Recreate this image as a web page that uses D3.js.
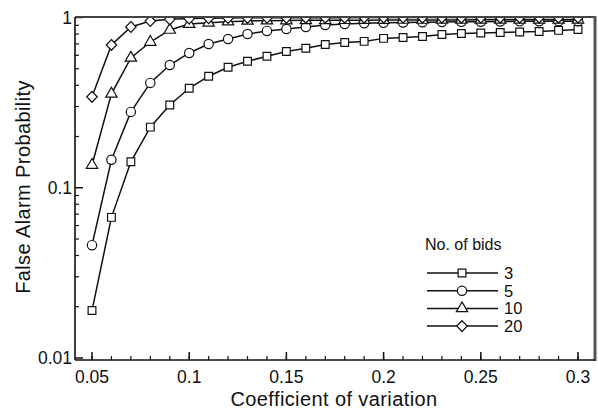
<!DOCTYPE html>
<html>
<head>
<meta charset="utf-8">
<script src="https://cdn.jsdelivr.net/npm/d3@7"></script>
<style>
  body { margin: 0; background: #fff; }
  text { font-family: "Liberation Sans", Arial, sans-serif; fill: #111; }
</style>
</head>
<body>
<svg id="chart" width="598" height="410"></svg>
<script>
// coefficient of variation (x) and false alarm probability for each no. of bids
const cv = [0.05, 0.06, 0.07, 0.08, 0.09, 0.10, 0.11, 0.12, 0.13, 0.14, 0.15, 0.16, 0.17,
            0.18, 0.19, 0.20, 0.21, 0.22, 0.23, 0.24, 0.25, 0.26, 0.27, 0.28, 0.29, 0.30]
const bids3 = [0.019, 0.067, 0.142, 0.227, 0.306, 0.384, 0.452, 0.51, 0.553, 0.592, 0.632, 0.659, 0.695,
               0.714, 0.724, 0.754, 0.764, 0.774, 0.795, 0.806, 0.81, 0.817, 0.822, 0.828, 0.84, 0.85]
const bids5 = [0.046, 0.146, 0.279, 0.413, 0.526, 0.619, 0.699, 0.748, 0.80, 0.834, 0.856, 0.88, 0.904,
               0.916, 0.925, 0.93, 0.935, 0.938, 0.941, 0.943, 0.945, 0.947, 0.949, 0.95, 0.951, 0.952]
const bids10 = [0.136, 0.356, 0.579, 0.718, 0.845, 0.915, 0.93, 0.945, 0.955, 0.958, 0.96, 0.962, 0.963,
                0.964, 0.965, 0.966, 0.967, 0.967, 0.968, 0.968, 0.969, 0.969, 0.97, 0.97, 0.97, 0.97]
const bids20 = [0.342, 0.69, 0.88, 0.954, 0.975, 0.985, 0.99, 0.993, 0.995, 0.996, 0.997, 0.998, 0.998,
                0.998, 0.999, 0.999, 0.999, 0.999, 0.999, 0.999, 0.999, 0.999, 0.999, 0.999, 0.999, 0.999]
const seriesNames = ["3", "5", "10", "20"]
const xTicks = [0.05, 0.1, 0.15, 0.2, 0.25, 0.3]
const yTicks = [0.01, 0.1, 1]
const yTickLabels = ["0.01", "0.1", "1"]

const series = [
  {name: seriesNames[0], values: bids3, shape: d3.symbolSquare},
  {name: seriesNames[1], values: bids5, shape: d3.symbolCircle},
  {name: seriesNames[2], values: bids10, shape: d3.symbolTriangle},
  {name: seriesNames[3], values: bids20, shape: d3.symbolDiamond}
]

const svg = d3.select("#chart")
const plotLeft = 75, plotRight = 595, plotTop = 17, plotBottom = 360

let x = d3.scaleLinear().domain([0.05, 0.3]).range([92, 578])
let y = d3.scaleLog().domain([0.01, 1]).range([358, 17.5])

svg.append("clipPath").attr("id", "plotclip")
  .append("rect")
    .attr("x", plotLeft).attr("y", plotTop)
    .attr("width", plotRight - plotLeft).attr("height", plotBottom - plotTop)

// minor ticks
let xMinor = d3.range(0.05, 0.305, 0.01)
svg.append("g").selectAll("line")
    .data(xMinor)
  .enter().append("line")
    .attr("x1", d => x(d)).attr("x2", d => x(d))
    .attr("y1", plotBottom).attr("y2", plotBottom - 4)
    .attr("stroke", "#111").attr("stroke-width", 1.2)

svg.append("g").selectAll("line")
    .data(xTicks)
  .enter().append("line")
    .attr("x1", d => x(d)).attr("x2", d => x(d))
    .attr("y1", plotBottom).attr("y2", plotBottom - 8)
    .attr("stroke", "#111").attr("stroke-width", 1.5)

let yMinor = []
;[0.01, 0.1].forEach(dec => { for (let k = 2; k <= 9; k++) yMinor.push(dec * k) })
svg.append("g").selectAll("line")
    .data(yMinor)
  .enter().append("line")
    .attr("x1", plotLeft).attr("x2", plotLeft + 4)
    .attr("y1", d => y(d)).attr("y2", d => y(d))
    .attr("stroke", "#111").attr("stroke-width", 1.2)

svg.append("g").selectAll("line")
    .data(yTicks)
  .enter().append("line")
    .attr("x1", plotLeft).attr("x2", plotLeft + 8)
    .attr("y1", d => y(d)).attr("y2", d => y(d))
    .attr("stroke", "#111").attr("stroke-width", 1.5)

// tick labels
svg.append("g").selectAll("text")
    .data(xTicks)
  .enter().append("text")
    .attr("x", d => x(d)).attr("y", 383)
    .attr("text-anchor", "middle")
    .attr("font-size", 17.5)
    .text(d => d3.format("")(d))

svg.append("g").selectAll("text")
    .data(yTicks)
  .enter().append("text")
    .attr("x", plotLeft - 3).attr("y", d => y(d) + 6)
    .attr("text-anchor", "end")
    .attr("font-size", 17.5)
    .text((d, i) => yTickLabels[i])

// axis titles
svg.append("text")
    .attr("x", 334).attr("y", 406)
    .attr("text-anchor", "middle").attr("font-size", 20)
    .attr("letter-spacing", 0.4)
    .text("Coefficient of variation")
svg.append("text")
    .attr("transform", "translate(30,187) rotate(-90)")
    .attr("text-anchor", "middle").attr("font-size", 20)
    .attr("letter-spacing", 0.4)
    .text("False Alarm Probability")

// series
let line = d3.line()
    .x((d, i) => x(cv[i]))
    .y(d => y(d))

const symSize = {"3": 60, "5": 68, "10": 56, "20": 60}

let plot = svg.append("g").attr("clip-path", "url(#plotclip)")
series.forEach(s => {
  let g = plot.append("g")
  g.append("path")
      .attr("d", line(s.values))
      .attr("fill", "none")
      .attr("stroke", "#111")
      .attr("stroke-width", 1.5)
  g.selectAll("path.pt")
      .data(s.values)
    .enter().append("path")
      .attr("class", "pt")
      .attr("d", d3.symbol().type(s.shape).size(symSize[s.name]))
      .attr("transform", (d, i) => `translate(${x(cv[i])},${y(d)})` + (s.shape === d3.symbolDiamond ? " scale(1.25,0.75)" : ""))
      .attr("fill", "#fff")
      .attr("stroke", "#111")
      .attr("stroke-width", 1.2)
})

// frame
svg.append("line").attr("x1", plotLeft).attr("x2", plotRight).attr("y1", plotTop).attr("y2", plotTop)
    .attr("stroke", "#444").attr("stroke-width", 2)
svg.append("line").attr("x1", plotRight).attr("x2", plotRight).attr("y1", plotTop - 1).attr("y2", plotBottom + 1)
    .attr("stroke", "#555").attr("stroke-width", 3)
svg.append("line").attr("x1", plotLeft).attr("x2", plotLeft).attr("y1", plotTop).attr("y2", plotBottom)
    .attr("stroke", "#111").attr("stroke-width", 1.6)
svg.append("line").attr("x1", plotLeft).attr("x2", plotRight).attr("y1", plotBottom).attr("y2", plotBottom)
    .attr("stroke", "#111").attr("stroke-width", 1.6)

// legend
let legend = svg.append("g")
legend.append("text")
    .attr("x", 425).attr("y", 250)
    .attr("font-size", 16)
    .text("No. of bids")
series.forEach((s, i) => {
  let ly = 273 + i * 17.7
  legend.append("line")
      .attr("x1", 427).attr("x2", 498).attr("y1", ly).attr("y2", ly)
      .attr("stroke", "#111").attr("stroke-width", 1.5)
  legend.append("path")
      .attr("d", d3.symbol().type(s.shape).size(symSize[s.name]))
      .attr("transform", `translate(462,${ly})` + (s.shape === d3.symbolDiamond ? " scale(1.25,0.75)" : ""))
      .attr("fill", "#fff").attr("stroke", "#111").attr("stroke-width", 1.2)
  legend.append("text")
      .attr("x", 504).attr("y", ly + 6)
      .attr("font-size", 16.5)
      .text(s.name)
})
</script>
</body>
</html>
